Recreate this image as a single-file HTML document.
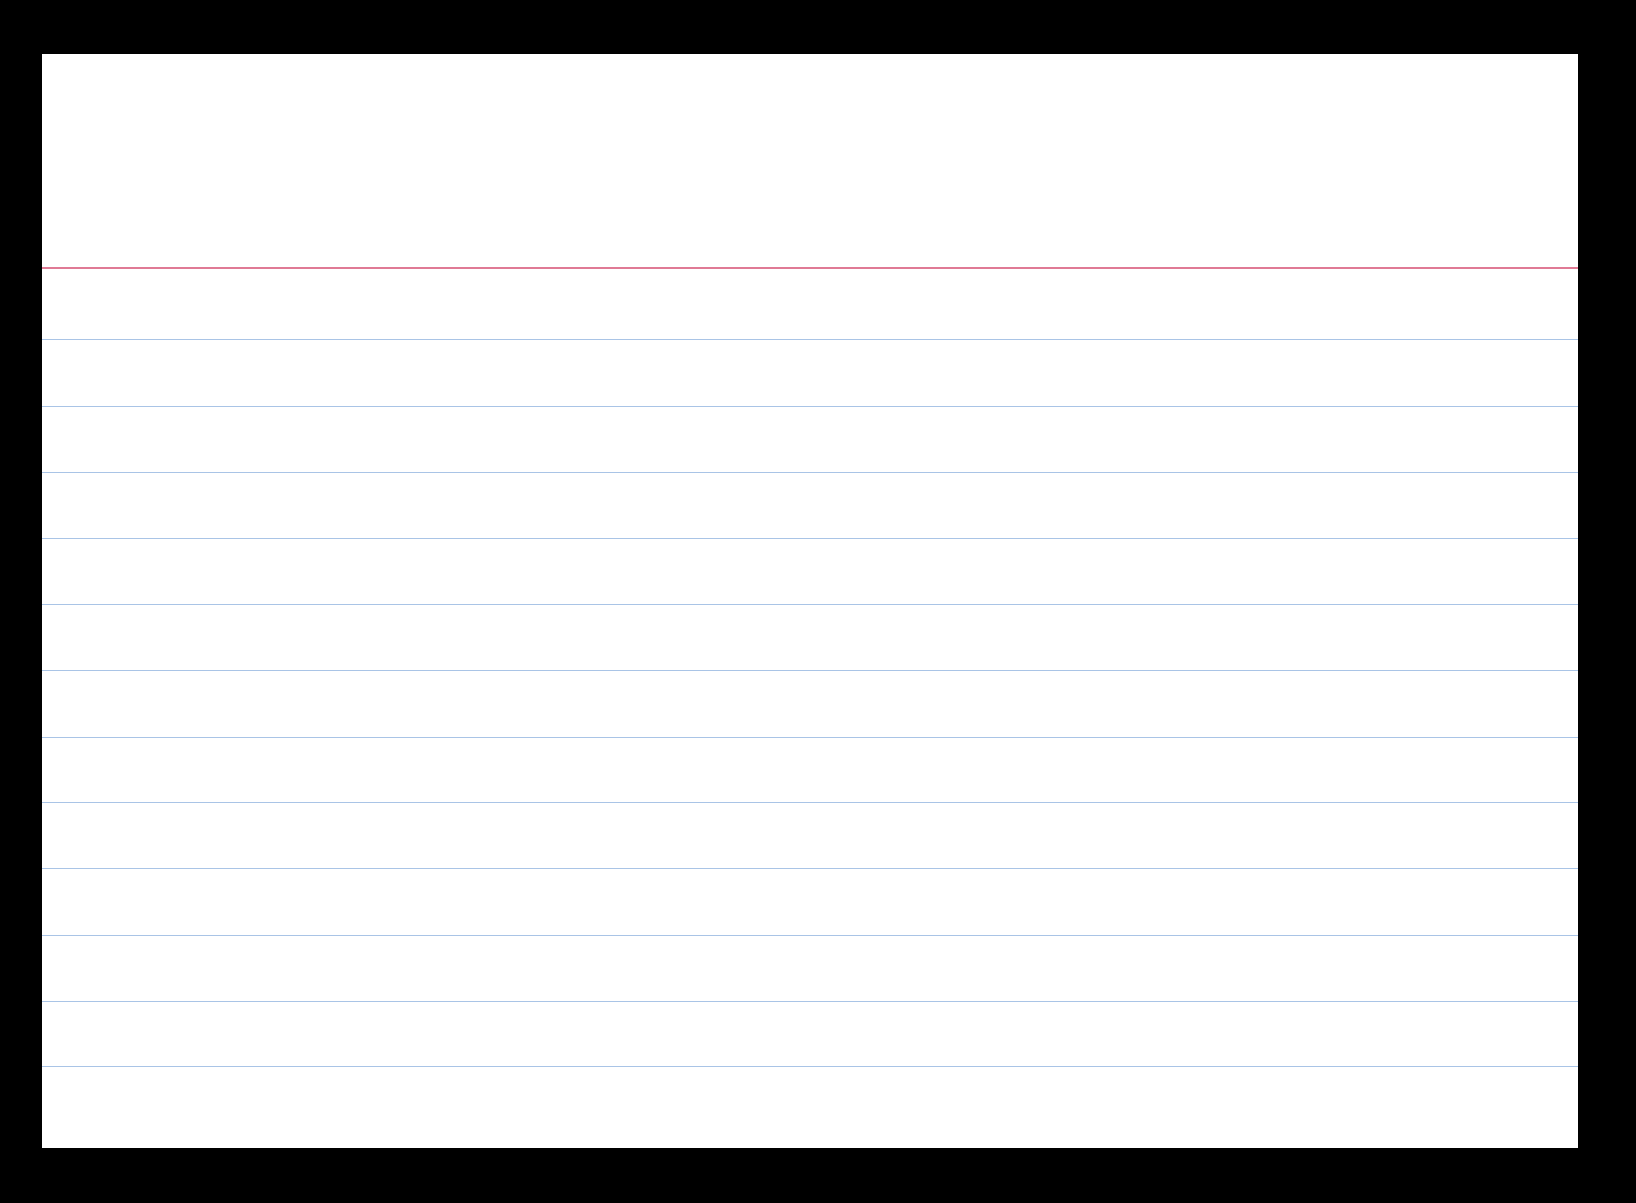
<!DOCTYPE html>
<html><head><meta charset="utf-8"><style>
html,body{margin:0;padding:0;background:#000;}
body{width:1636px;height:1203px;position:relative;overflow:hidden;}
.card{position:absolute;left:42px;top:54px;width:1536px;height:1094px;background:#fff;}
.l{position:absolute;left:0;width:100%;height:1px;background:#a9c4e6;}
.r{position:absolute;left:0;width:100%;height:2px;background:#e07a95;}
</style></head><body>
<div class="card">
<div class="r" style="top:213px"></div>
<div class="l" style="top:285px"></div>
<div class="l" style="top:352px"></div>
<div class="l" style="top:418px"></div>
<div class="l" style="top:484px"></div>
<div class="l" style="top:550px"></div>
<div class="l" style="top:616px"></div>
<div class="l" style="top:683px"></div>
<div class="l" style="top:748px"></div>
<div class="l" style="top:814px"></div>
<div class="l" style="top:881px"></div>
<div class="l" style="top:947px"></div>
<div class="l" style="top:1012px"></div>
</div>
</body></html>
